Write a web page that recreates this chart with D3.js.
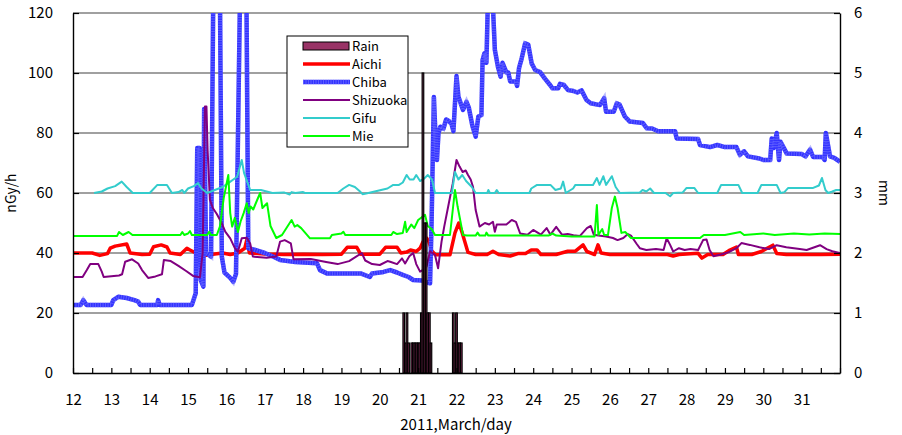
<!DOCTYPE html>
<html>
<head>
<meta charset="utf-8">
<script src="https://cdn.jsdelivr.net/npm/d3@7"></script>
<style>
	body { margin: 0; background: #fff; }
	svg { display: block; font-family: "Noto Sans CJK JP", "Noto Sans", sans-serif; }
</style>
</head>
<body>
<div id="chart"></div>
<script>
// ---- data (day of March 2011, nGy/h) ----
var aichi = [[12.0,40],[12.5,40],[12.7,39.2],[12.9,39.8],[12.97,41.6],[13.1,42.3],[13.4,43],[13.49,40],[13.8,39.5],[14.0,39.6],[14.1,42.1],[14.3,42.7],[14.45,42],[14.53,40],[14.8,39.5],[14.97,41.6],[15.05,41],[15.2,40],[15.35,39],[15.6,39.5],[15.9,40],[16.1,39.5],[16.3,40],[16.48,41.6],[16.53,44.3],[16.6,40],[17.0,39.7],[17.5,39.5],[18.0,39.6],[18.5,39.5],[19.0,39.6],[19.15,41.9],[19.4,41.9],[19.5,39.6],[20.0,39.6],[20.15,41.9],[20.45,41.9],[20.55,40],[20.7,40.3],[20.8,41],[20.95,40.5],[21.05,41.6],[21.13,43.8],[21.22,45],[21.28,43.8],[21.35,40.8],[21.45,39.4],[21.83,39.4],[21.96,46.7],[22.06,50],[22.15,46.7],[22.3,40.2],[22.5,39.5],[22.8,39.5],[22.95,40.6],[23.1,39.5],[23.4,39],[23.6,39.8],[23.8,39.8],[23.95,41],[24.1,41],[24.2,39.5],[24.6,39.5],[24.9,40.6],[25.1,40.6],[25.3,42.7],[25.4,40.5],[25.6,39.5],[25.69,42.7],[25.77,40],[26.0,39.5],[27.0,39.5],[27.5,39.5],[27.65,39],[27.8,39.5],[28.3,39.9],[28.4,38.3],[28.55,39.5],[28.95,39.5],[29.13,41],[29.3,42],[29.35,39.5],[29.7,39.5],[29.95,40.5],[30.1,41.6],[30.25,42.6],[30.35,39.8],[30.6,39.5],[31,39.5],[31.5,39.5],[32,39.6]];

var chiba = [[12.0,22.7],[12.2,22.7],[12.27,24.3],[12.35,22.7],[13.0,22.7],[13.05,24.3],[13.18,25.4],[13.4,25],[13.6,24.3],[13.7,23.8],[13.75,22.7],[14.2,22.7],[14.22,24.3],[14.26,22.7],[15.1,22.7],[15.2,26.6],[15.24,75],[15.3,75],[15.33,31],[15.4,28.8],[15.42,88],[15.47,40],[15.6,38.8],[15.66,130],[15.83,130],[15.88,38.8],[15.95,33.5],[16.1,31.7],[16.18,30.4],[16.25,33],[16.36,130],[16.52,130],[16.57,41.6],[16.75,41],[17.0,40],[17.2,38.9],[17.4,37.7],[17.8,37],[18.36,36.6],[18.44,34.3],[18.62,33.2],[19.0,33.2],[19.5,33.2],[19.74,32],[19.8,33.2],[20.1,33.7],[20.27,34.3],[20.45,33.5],[20.6,32.7],[20.75,32],[20.87,31],[21.1,30.8],[21.31,29.9],[21.35,50],[21.38,71],[21.41,92],[21.46,76.6],[21.49,71],[21.53,80],[21.58,82.1],[21.66,81.5],[21.73,84.5],[21.8,84],[21.87,83],[21.92,80.6],[22.0,99],[22.05,92.1],[22.17,87.7],[22.26,90.4],[22.32,88.5],[22.42,82.1],[22.5,78.8],[22.57,85.5],[22.65,86],[22.68,104.3],[22.73,106.6],[22.78,103.4],[22.82,125],[22.94,125],[23.0,107.7],[23.08,102.1],[23.15,98.8],[23.2,103.4],[23.3,100.2],[23.35,100.2],[23.4,97.2],[23.55,97.2],[23.58,95.7],[23.63,101.6],[23.7,104.9],[23.79,109.9],[23.87,109.5],[23.96,103.2],[24.05,101],[24.18,100.3],[24.3,98.2],[24.44,96],[24.5,94.9],[24.65,94.9],[24.7,96.4],[24.8,96],[24.91,94.3],[25.05,94],[25.15,93.5],[25.26,94.2],[25.39,91],[25.5,89.9],[25.74,89.3],[25.85,91.6],[25.9,87.1],[26.1,87.1],[26.18,89.9],[26.25,89.5],[26.39,85.5],[26.52,83.8],[26.86,83.3],[26.96,81.6],[27.1,81.5],[27.26,80.6],[27.7,80.6],[27.74,78.2],[28.3,78],[28.35,76],[28.61,75.3],[28.8,76],[29.0,75.3],[29.3,75.3],[29.39,72.7],[29.5,73.9],[29.6,72.2],[29.9,71.5],[30.0,71],[30.18,71],[30.22,78.2],[30.27,75],[30.35,80],[30.41,71],[30.45,77.1],[30.61,73.2],[31.0,73],[31.1,72.2],[31.22,74.5],[31.3,72],[31.55,72],[31.6,71],[31.63,80],[31.74,72.2],[31.85,71.7],[32.0,70.4]];

var shizuoka = [[12.0,32],[12.25,32],[12.36,34.3],[12.45,36.3],[12.66,36.3],[12.75,33.8],[12.8,32],[13.2,32.5],[13.28,32.9],[13.36,37.1],[13.54,37.9],[13.7,36.5],[13.8,34.3],[13.96,31.7],[14.15,32.2],[14.32,32.9],[14.37,37.7],[14.55,37.3],[14.75,35.7],[14.95,34],[15.14,32.3],[15.31,31.9],[15.38,40],[15.44,88.8],[15.48,88.8],[15.51,74.3],[15.57,57.7],[15.65,54.9],[15.75,53],[15.88,49.9],[15.97,47.1],[16.1,44.9],[16.22,41.6],[16.3,40.4],[16.4,44.9],[16.53,45.1],[16.62,43.2],[16.69,38.8],[17.05,38.4],[17.3,38.8],[17.4,43.8],[17.52,44.3],[17.68,43.2],[17.75,37.9],[18.2,38],[18.6,37],[18.9,36.3],[19.2,37.3],[19.53,40],[19.62,37.5],[19.8,36.3],[20.0,36],[20.2,37.3],[20.27,37.1],[20.45,36.3],[20.58,38.2],[20.66,36.5],[20.77,38.9],[20.87,40],[20.95,36.3],[21.05,33.8],[21.13,34.4],[21.22,35.5],[21.31,40.6],[21.44,39.3],[21.52,34.9],[21.61,43.8],[21.68,48.8],[21.8,56.6],[21.9,63],[22.0,71],[22.08,68.8],[22.16,67],[22.24,67.5],[22.3,66],[22.37,64.5],[22.43,62.1],[22.5,54.3],[22.6,48.8],[22.74,50],[22.85,49.5],[22.95,50.4],[23.0,47.1],[23.05,49.5],[23.3,49.5],[23.44,51],[23.55,50.4],[23.66,46.5],[23.85,46.1],[24.0,47.7],[24.2,46.1],[24.35,48.3],[24.45,46.1],[24.6,48.7],[24.75,46.1],[24.9,46.3],[25.05,45.9],[25.22,45.7],[25.4,48.3],[25.5,49],[25.58,46.1],[25.7,45.8],[25.9,45.5],[26.08,45],[26.2,44.3],[26.35,45],[26.47,46.3],[26.55,45.8],[26.7,43],[26.78,41.6],[26.95,41],[27.2,41.3],[27.4,41],[27.48,44.9],[27.57,42.7],[27.65,40.5],[27.8,41.6],[27.95,41],[28.1,41.3],[28.3,41],[28.43,44.3],[28.52,44.5],[28.6,41],[28.7,38.9],[28.9,39.5],[29.1,40.3],[29.3,41.6],[29.43,43.3],[29.65,42.7],[29.9,41.9],[30.15,41.3],[30.35,42.6],[30.6,41.9],[30.95,41.3],[31.13,41],[31.48,42.6],[31.65,41.3],[31.8,40.6],[32.0,40]];

var gifu = [[12.55,60],[12.75,60.5],[12.9,61.5],[13.1,62.3],[13.27,63.8],[13.4,62],[13.56,60],[14.0,60],[14.2,62.7],[14.45,62.7],[14.58,60],[14.75,60.3],[14.85,61],[14.9,60],[15.0,61.5],[15.15,62.3],[15.26,63.3],[15.35,61.5],[15.5,60],[15.7,61],[15.9,62],[16.05,63.3],[16.28,65.4],[16.4,71],[16.46,66.7],[16.62,61],[16.9,61],[17.2,60],[17.5,60.2],[17.65,59.5],[17.7,60.3],[17.8,60],[18.0,60.3],[18.05,60],[18.9,60],[19.05,61.5],[19.2,62.7],[19.35,62],[19.5,60.3],[19.55,59.6],[19.7,60],[20.2,61.5],[20.35,62.7],[20.5,62.7],[20.6,63.5],[20.7,66],[20.78,64.5],[20.88,64.5],[20.95,66],[21.05,64],[21.15,64.7],[21.25,66],[21.36,64.5],[21.44,60],[21.88,60],[21.96,67],[22.05,64.5],[22.15,66],[22.25,64],[22.4,62],[22.5,60],[22.8,60],[22.83,61],[22.87,60],[23.0,60],[23.05,61],[23.1,60],[23.9,60],[23.95,61.5],[24.1,62.7],[24.45,62.7],[24.58,61],[24.72,61.5],[24.78,63.8],[24.85,60],[25.04,61.5],[25.1,62.7],[25.56,62.7],[25.66,65],[25.73,62.7],[25.83,65.6],[25.9,62.7],[26.05,65.6],[26.15,62],[26.26,60],[26.78,60.2],[26.85,61],[26.95,60.5],[27.05,61.5],[27.15,60],[27.45,60],[27.57,58.9],[27.65,60],[27.9,60.2],[28.0,61.7],[28.2,61.7],[28.3,60],[28.8,60],[28.9,62.7],[29.35,62.7],[29.45,60],[29.85,60],[29.95,62.7],[30.35,62.7],[30.45,60],[30.55,60.3],[30.65,61.7],[31.3,61.7],[31.45,62.5],[31.53,65],[31.62,61],[31.69,60],[31.8,60.5],[31.9,61],[32.0,61]];

var mie = [[12.0,45.7],[13.15,45.7],[13.2,47],[13.3,46],[13.45,47],[13.55,46],[14.0,46],[14.8,46],[14.85,47],[14.9,46],[15.0,46.5],[15.05,47.3],[15.1,46],[15.5,46],[15.55,47.1],[15.6,46],[15.75,46],[15.83,48.8],[15.93,58.3],[16.05,66],[16.1,53.3],[16.15,48.8],[16.22,51.7],[16.3,47],[16.37,50.5],[16.45,53.3],[16.53,56.6],[16.58,53.3],[16.63,55.5],[16.7,54.5],[16.78,57],[16.88,60],[16.94,55],[17.06,56.6],[17.15,49],[17.3,45],[17.45,46],[17.55,48],[17.7,51],[17.78,48.8],[17.85,49.3],[17.95,48.3],[18.18,44.9],[18.7,44.9],[18.75,46],[19.0,46.5],[19.05,47.1],[19.1,46],[20.3,46],[20.35,47],[20.45,46.3],[20.6,46.7],[20.66,50.4],[20.7,47],[20.82,49.5],[20.9,48.3],[21.0,51],[21.18,52.7],[21.25,49],[21.35,48],[21.44,46],[21.83,46],[21.96,61],[22.03,55.4],[22.17,46],[22.27,45.8],[22.5,45.8],[22.55,46.8],[22.6,45.8],[22.75,45.8],[22.78,46.8],[22.83,45.8],[24.4,45.8],[24.5,46.5],[24.6,45.8],[25.0,45.5],[25.6,45.5],[25.66,56],[25.7,46],[25.8,48],[25.85,46],[25.95,46],[26.05,55],[26.13,58.8],[26.2,55],[26.3,46.7],[26.4,47],[26.55,45],[27.0,45],[27.5,45],[28.0,45],[28.35,45],[28.45,46],[29.0,46],[29.4,47],[29.5,46],[30.0,46.5],[30.3,46],[30.8,46.5],[31.2,46.2],[31.6,46.5],[32.0,46.3]];

// rain: hours counted from 20 March 00:00, mm per hour
var rainHour = [15, 16, 17, 18, 20, 21, 22, 23, 24, 25, 26, 27, 28, 29, 30, 31, 32, 46, 47, 48, 49, 50, 51];
var rainMm   = [1.0, 0.5, 1.0, 0.5, 0.5, 0.5, 0.5, 0.5, 0.5, 0.5, 1.0, 5.0, 2.5, 2.5, 1.0, 1.0, 0.5, 1.0, 0.5, 1.0, 0.5, 0.5, 0.5];

var dayTicks = d3.range(12, 32.01, 0.5);
var doseTicks = [0, 20, 40, 60, 80, 100, 120];
var rainTicks = [0, 1, 2, 3, 4, 5, 6];

// ---- layout ----
var margin = {top: 13, right: 62, bottom: 62, left: 73},
	width = 902 - margin.left - margin.right,
	height = 435 - margin.top - margin.bottom;

var xScale = d3.scaleLinear().domain([12, 32]).range([0, width]);
var yScale = d3.scaleLinear().domain([0, 120]).range([height, 0]);
var rScale = d3.scaleLinear().domain([0, 6]).range([height, 0]);

var svg = d3.select("#chart").append("svg")
		.attr("width", 902)
		.attr("height", 435);

var g = svg.append("g")
	.attr("transform", "translate(" + margin.left + "," + margin.top + ")");

g.append("clipPath").attr("id", "plotclip")
	.append("rect").attr("x", 0).attr("y", 0).attr("width", width).attr("height", height);

// gridlines
g.selectAll(".grid")
	.data(doseTicks.filter(function(d) { return d > 0; }))
	.enter().append("line")
		.attr("x1", 0).attr("x2", width)
		.attr("y1", function(d) { return yScale(d); })
		.attr("y2", function(d) { return yScale(d); })
		.attr("stroke", "#808080")
		.attr("stroke-width", 1.6);

// lines
var line = d3.line()
	.x(function(d) { return xScale(d[0]); })
	.y(function(d) { return yScale(d[1]); });

var lines = g.append("g").attr("clip-path", "url(#plotclip)");

lines.append("path").datum(aichi)
	.attr("d", line).attr("fill", "none")
	.attr("stroke", "#ff0000").attr("stroke-width", 3.5).attr("stroke-linejoin", "round");

// Chiba: solid blue with a fine lighter stripe on top
lines.append("path").datum(chiba)
	.attr("d", line).attr("fill", "none")
	.attr("stroke", "#3333ff").attr("stroke-width", 4.5).attr("stroke-linejoin", "round");
lines.append("path").datum(chiba)
	.attr("d", line).attr("fill", "none")
	.attr("stroke", "#8080ff").attr("stroke-width", 4.5).attr("stroke-opacity", 0.55)
	.attr("stroke-dasharray", "1 1.5");

lines.append("path").datum(shizuoka)
	.attr("d", line).attr("fill", "none")
	.attr("stroke", "#800080").attr("stroke-width", 2).attr("stroke-linejoin", "round");

lines.append("path").datum(gifu)
	.attr("d", line).attr("fill", "none")
	.attr("stroke", "#33cccc").attr("stroke-width", 2).attr("stroke-linejoin", "round");

lines.append("path").datum(mie)
	.attr("d", line).attr("fill", "none")
	.attr("stroke", "#00ff00").attr("stroke-width", 2).attr("stroke-linejoin", "round");

// rain bars (secondary axis)
var hourW = xScale(12 + 1 / 24) - xScale(12);
g.selectAll(".rain")
	.data(rainHour)
	.enter().append("rect")
		.attr("class", "rain")
		.attr("x", function(h) { return xScale(20 + h / 24) - hourW / 2; })
		.attr("width", hourW)
		.attr("y", function(h, i) { return rScale(rainMm[i]); })
		.attr("height", function(h, i) { return height - rScale(rainMm[i]); })
		.attr("fill", "#993366")
		.attr("stroke", "#000")
		.attr("stroke-width", 1.2);

// axes
var xAxis = d3.axisBottom(xScale)
	.tickValues(dayTicks)
	.tickSize(-5).tickSizeOuter(0).tickPadding(21)
	.tickFormat(function(d) { return (d % 1 === 0 && d < 32) ? d : ""; });

var yAxis = d3.axisLeft(yScale)
	.tickValues(doseTicks).tickSize(-6).tickSizeOuter(0).tickPadding(20);

var rAxis = d3.axisRight(rScale)
	.tickValues(rainTicks).tickSize(-6).tickSizeOuter(0).tickPadding(14)
	.tickFormat(d3.format("d"));

var axes = [
	g.append("g").attr("transform", "translate(0," + height + ")").call(xAxis),
	g.append("g").call(yAxis),
	g.append("g").attr("transform", "translate(" + width + ",0)").call(rAxis)
];
axes.forEach(function(a) {
	a.select(".domain").attr("stroke", "#000").attr("stroke-width", 1.4);
	a.selectAll(".tick line").attr("stroke", "#000").attr("stroke-width", 1.2);
	a.selectAll(".tick text").attr("fill", "#000").style("font-size", "15px")
		.style("font-family", "\"Noto Sans CJK JP\", \"Noto Sans\", sans-serif");
});

// axis titles
svg.append("text")
	.attr("transform", "translate(16,193) rotate(-90)")
	.attr("text-anchor", "middle")
	.style("font-size", "14px")
	.text("nGy/h");

svg.append("text")
	.attr("transform", "translate(879,193) rotate(90)")
	.attr("text-anchor", "middle")
	.style("font-size", "14px")
	.text("mm");

svg.append("text")
	.attr("x", 456).attr("y", 430)
	.attr("text-anchor", "middle")
	.style("font-size", "15px")
	.text("2011,March/day");

// legend
var legendItems = [
	{name: "Rain", color: "#993366", w: 0, bar: true},
	{name: "Aichi", color: "#ff0000", w: 3.5},
	{name: "Chiba", color: "#3333ff", w: 4.5, dash: true},
	{name: "Shizuoka", color: "#800080", w: 2},
	{name: "Gifu", color: "#33cccc", w: 2},
	{name: "Mie", color: "#00ff00", w: 2}
];

var legend = svg.append("g").attr("transform", "translate(287,36)");
legend.append("rect")
	.attr("width", 121).attr("height", 111)
	.attr("fill", "#fff").attr("stroke", "#000").attr("stroke-width", 1);

var rows = legend.selectAll(".row")
	.data(legendItems)
	.enter().append("g")
		.attr("transform", function(d, i) { return "translate(0," + (10 + i * 18) + ")"; });

rows.each(function(d) {
	var r = d3.select(this);
	if (d.bar) {
		r.append("rect").attr("x", 16).attr("y", -4).attr("width", 46).attr("height", 8)
			.attr("fill", d.color).attr("stroke", "#000").attr("stroke-width", 1);
	} else {
		r.append("line").attr("x1", 16).attr("x2", 63)
			.attr("stroke", d.color).attr("stroke-width", d.w);
		if (d.dash) {
			r.append("line").attr("x1", 16).attr("x2", 63)
				.attr("stroke", "#8080ff").attr("stroke-width", d.w).attr("stroke-opacity", 0.55)
				.attr("stroke-dasharray", "1 1.5");
		}
	}
	r.append("text").attr("x", 65).attr("dy", "0.35em")
		.style("font-size", "13px")
		.text(d.name);
});
</script>
</body>
</html>
